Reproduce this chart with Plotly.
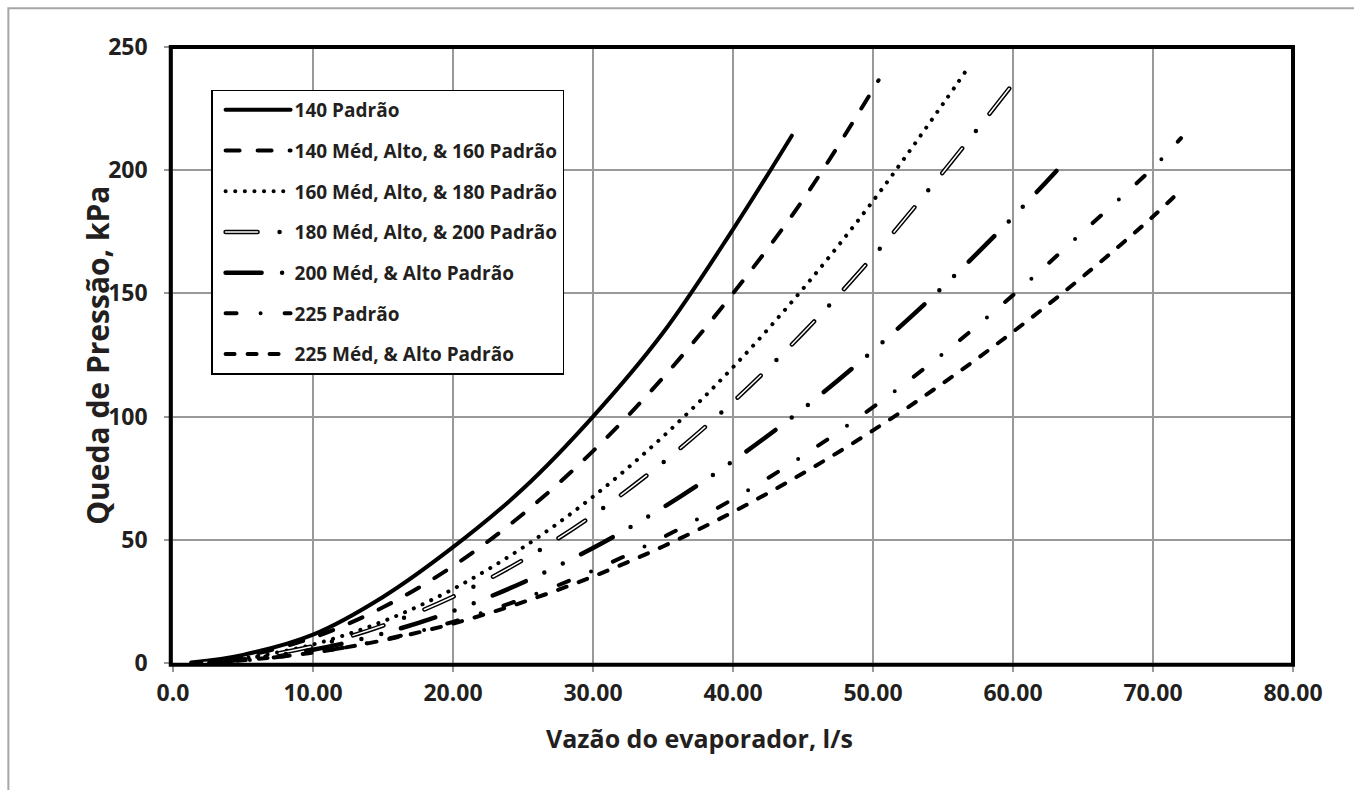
import plotly.graph_objects as go

# Queda de pressão no evaporador (kPa) x vazão (l/s)
x_140p = [1.3, 5, 10, 15, 20, 25, 30, 35, 40, 44.2]
y_140p = [0.2, 3.3, 11.5, 26.8, 47, 70.7, 100, 134, 176, 214]

x_140m = [1.6, 5, 10, 15, 20, 25, 30, 35, 40, 45, 50.4]
y_140m = [0.2, 2.7, 10.3, 22.6, 39.3, 60.5, 86, 115.8, 150, 188, 236.5]

x_160m = [2.0, 5, 10, 15, 20, 25, 30, 35, 40, 45, 50, 55, 56.6]
y_160m = [0.2, 1.9, 7.5, 16.9, 30, 46.9, 67.5, 91.9, 120, 151.9, 187.5, 226.9, 240]

x_180m = [2.2, 5, 10, 15, 20, 25, 30, 35, 40, 45, 50, 55, 60.4]
y_180m = [0.2, 1.7, 6.8, 15.2, 26.9, 41.8, 60, 81.4, 106, 133.9, 165, 199.2, 238]

x_200m = [2.6, 5, 10, 15, 20, 25, 30, 35, 40, 45, 50, 55, 60, 63.1]
y_200m = [0.2, 1.4, 5.4, 12.0, 21.1, 32.7, 46.7, 63.1, 82, 103.2, 126.8, 152.7, 181, 199.7]

x_225p = [3.0, 5, 10, 15, 20, 25, 30, 35, 40, 45, 50, 55, 60, 65, 70, 72]
y_225p = [0.2, 1.0, 4.2, 9.4, 16.7, 26.1, 37.5, 51, 66.5, 84.1, 103.8, 125.5, 149.3, 175, 201, 213]

x_225m = [3.0, 5, 10, 15, 20, 25, 30, 35, 40, 45, 50, 55, 60, 65, 70, 72]
y_225m = [0.2, 1.1, 4.2, 9.2, 16, 24.7, 35.1, 47.3, 61.3, 77, 94.4, 113.6, 134.4, 156.9, 181.2, 192]

x_ticks = [0, 10, 20, 30, 40, 50, 60, 70, 80]
x_tick_text = ["0.0", "10.00", "20.00", "30.00", "40.00", "50.00", "60.00", "70.00", "80.00"]
y_ticks = [0, 50, 100, 150, 200, 250]

FONT = "Open Sans"
INK = "#231f20"
GRID = "#999999"

fig = go.Figure()

def curve(x, y, name, dash, width=4, show=True, color="black", group=None):
    fig.add_trace(go.Scatter(
        x=x, y=y, mode="lines", name=name,
        line=dict(color=color, width=width, dash=dash, shape="spline"),
        showlegend=show, legendgroup=group or name,
    ))

curve(x_140p, y_140p, "140 Padrão", "solid")
curve(x_140m, y_140m, "140 Méd, Alto, & 160 Padrão", "14px,18px")
curve(x_160m, y_160m, "160 Méd, Alto, & 180 Padrão", "0.1px,9.5px")
# linha "vazada": traço preto largo com branco fino por cima
curve(x_180m, y_180m, "180 Méd, Alto, & 200 Padrão", "32px,22px,0px,22px", width=4.5)
curve(x_180m, y_180m, "180 branco", "32px,44px", width=1.5, show=False,
      color="white", group="180 Méd, Alto, & 200 Padrão")
curve(x_200m, y_200m, "200 Méd, & Alto Padrão", "36px,20.5px,0px,20.5px,0px,20.5px", width=4.5)
curve(x_225p, y_225p, "225 Padrão", "11px,24px,0px,24px")
curve(x_225m, y_225m, "225 Méd, & Alto Padrão", "9px,13px")

fig.update_layout(
    width=1354, height=790,
    margin=dict(l=173, r=61, t=47, b=127),
    paper_bgcolor="white", plot_bgcolor="white",
    font=dict(family=FONT, size=23, color=INK, weight="bold"),
    showlegend=True,
    legend=dict(
        x=0.034, y=0.931, xanchor="left", yanchor="top",
        bgcolor="white", bordercolor="black", borderwidth=1.5,
        font=dict(family=FONT, size=19, color=INK, weight="bold"),
        tracegroupgap=13, itemwidth=72,
    ),
    xaxis=dict(
        range=[0, 80], tickvals=x_ticks, ticktext=x_tick_text,
        showgrid=True, gridcolor=GRID, gridwidth=1.5,
        showline=True, linecolor=GRID, linewidth=1.5,
        ticks="outside", ticklen=7, tickcolor=GRID, tickwidth=1.5,
        ticklabelstandoff=2, zeroline=False,
    ),
    yaxis=dict(
        range=[0, 250], tickvals=y_ticks,
        showgrid=True, gridcolor=GRID, gridwidth=1.5,
        showline=True, linecolor=GRID, linewidth=1.5,
        ticks="outside", ticklen=7, tickcolor=GRID, tickwidth=1.5,
        ticklabelstandoff=12, zeroline=False,
    ),
    shapes=[
        # moldura externa cinza
        dict(type="rect", xref="paper", yref="paper", x0=-0.147, x1=1.2,
             y0=-0.5, y1=1.063, line=dict(color="#a6a6a6", width=2), layer="below"),
        # borda da área de plotagem
        dict(type="rect", xref="paper", yref="paper", x0=-0.002, x1=1.0,
             y0=-0.003, y1=1.0, line=dict(color="black", width=4), layer="above"),
    ],
    annotations=[
        dict(text="Queda de Pressão, kPa", xref="paper", yref="paper",
             x=-0.068, y=0.5, xanchor="center", yanchor="middle",
             textangle=-90, showarrow=False,
             font=dict(family=FONT, size=30, color=INK, weight="bold")),
        dict(text="Vazão do evaporador, l/s", xref="paper", yref="paper",
             x=0.4705, y=-0.121, xanchor="center", yanchor="middle", showarrow=False,
             font=dict(family=FONT, size=25, color=INK, weight="bold")),
    ],
)

# cantos arredondados nos traços, página sem margem e amostras de legenda mais longas
post = """
var s = document.createElement('style');
s.innerHTML = 'body{margin:0} .js-line{stroke-linecap:round}';
document.head.appendChild(s);
document.querySelectorAll('.legend .traces').forEach(function(t) {
  var p = t.querySelector('.legendlines path');
  if (!p) return;
  p.setAttribute('d', 'M13,0h65');
  var txt = t.querySelector('.legendtext');
  if (txt && txt.textContent.indexOf('180') === 0) {
    var w = p.cloneNode(true);
    w.style.stroke = 'white';
    w.style.strokeWidth = '1.5px';
    w.style.strokeDasharray = '32px,44px';
    p.parentNode.appendChild(w);
  }
});
"""

fig.write_html("out.html", post_script=post, config={"displayModeBar": False})
